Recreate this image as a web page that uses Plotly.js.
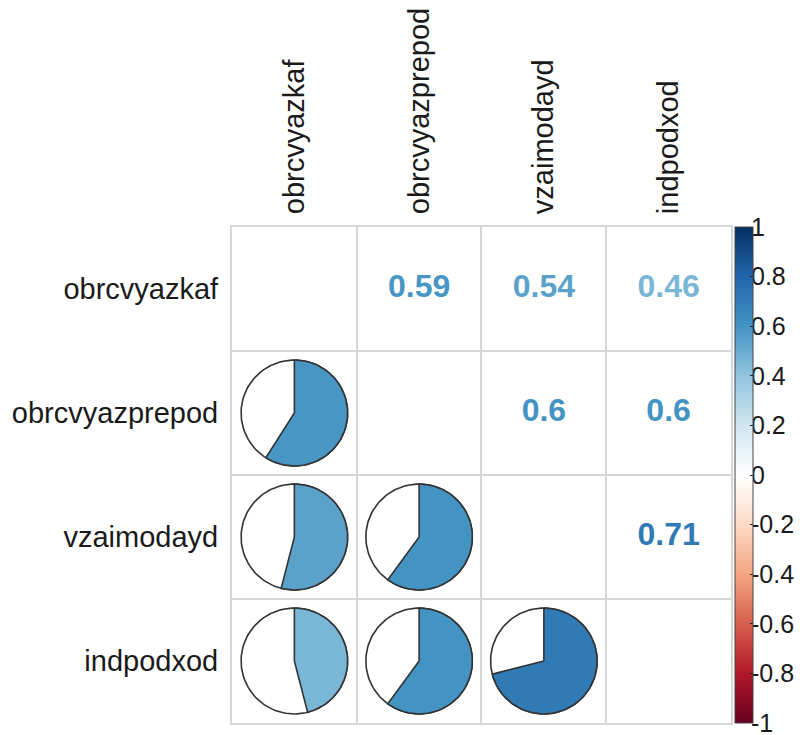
<!DOCTYPE html>
<html>
<head>
<meta charset="utf-8">
<script src="https://cdn.plot.ly/plotly-3.0.1.min.js"></script>
<style>body{margin:0;background:#fff;} #chart{width:800px;height:735px;}</style>
</head>
<body>
<div id="chart"></div>
<script>
// ---- data ----
var variables = ["obrcvyazkaf", "obrcvyazprepod", "vzaimodayd", "indpodxod"];
// correlation matrix (upper/lower symmetric)
var corrRow1 = [1.00, 0.59, 0.54, 0.46];
var corrRow2 = [0.59, 1.00, 0.60, 0.60];
var corrRow3 = [0.54, 0.60, 1.00, 0.71];
var corrRow4 = [0.46, 0.60, 0.71, 1.00];
var corr = [corrRow1, corrRow2, corrRow3, corrRow4];
var colorbarTicks = [1, 0.8, 0.6, 0.4, 0.2, 0, -0.2, -0.4, -0.6, -0.8, -1];
var colorbarTickText = ["1", "0.8", "0.6", "0.4", "0.2", "0", "-0.2", "-0.4", "-0.6", "-0.8", "-1"];

// corrplot RdBu palette
var paletteHex = ["#67001F","#B2182B","#D6604D","#F4A582","#FDDBC7","#FFFFFF","#D1E5F0","#92C5DE","#4393C3","#2166AC","#053061"];
var colorscale = paletteHex.map(function(c, i){ return [i/(paletteHex.length-1), c]; });

function hexToRgb(h){ return [parseInt(h.substr(1,2),16), parseInt(h.substr(3,2),16), parseInt(h.substr(5,2),16)]; }
function colorFor(v){
  var t = (v + 1) / 2 * (paletteHex.length - 1);
  var i = Math.min(Math.floor(t), paletteHex.length - 2);
  var f = t - i;
  var a = hexToRgb(paletteHex[i]), b = hexToRgb(paletteHex[i+1]);
  var c = a.map(function(x, k){ return Math.round(x + (b[k]-x)*f); });
  return "rgb(" + c.join(",") + ")";
}

var R = 0.427; // pie radius in cell units
var traces = [];
var n = variables.length;

// lower triangle: pies
for (var i = 0; i < n; i++) {
  for (var j = 0; j < i; j++) {
    var v = corr[i][j];
    var cx = j + 1, cy = i + 1;
    var xs = [], ys = [];
    for (var k = 0; k <= 120; k++) {
      var th = 2*Math.PI*k/120;
      xs.push(cx + R*Math.sin(th)); ys.push(cy - R*Math.cos(th));
    }
    traces.push({type:"scatter", mode:"lines", x:xs, y:ys, fill:"toself", fillcolor:"#ffffff",
      line:{color:"#333333", width:1.6}, hoverinfo:"skip", showlegend:false});
    var wx = [cx], wy = [cy];
    var steps = Math.max(2, Math.round(120*Math.abs(v)));
    for (var k = 0; k <= steps; k++) {
      var th = 2*Math.PI*v*k/steps;
      wx.push(cx + R*Math.sin(th)); wy.push(cy - R*Math.cos(th));
    }
    wx.push(cx); wy.push(cy);
    traces.push({type:"scatter", mode:"lines", x:wx, y:wy, fill:"toself", fillcolor:colorFor(v),
      line:{color:"#333333", width:1.6}, hoverinfo:"skip", showlegend:false});
  }
}

// upper triangle: numbers
var tx = [], ty = [], tt = [], tc = [], tv = [];
for (var i = 0; i < n; i++) {
  for (var j = i+1; j < n; j++) {
    var v = corr[i][j];
    tx.push(j+1); ty.push(i+1);
    tt.push(String(Math.round(v*100)/100));
    tc.push(colorFor(v)); tv.push(v);
  }
}
traces.push({type:"scatter", mode:"markers+text", x:tx, y:ty, text:tt,
  textfont:{family:"Liberation Sans, Arial, sans-serif", size:32, color:tc, weight:"bold"},
  textposition:"middle center", hoverinfo:"skip", showlegend:false,
  marker:{color:tv, size:1, opacity:0, colorscale:colorscale, cmin:-1, cmax:1, showscale:true,
    colorbar:{x:0.8856, xanchor:"left", xpad:0, y:0.5, yanchor:"middle", len:1, lenmode:"fraction", ypad:0,
      thickness:18, outlinecolor:"#444", outlinewidth:1,
      tickvals:colorbarTicks, ticks:"inside", ticklen:3, tickcolor:"#222", showticklabels:false}}
});

// invisible trace to hold the colour-bar label axis
traces.push({type:"scatter", mode:"markers", x:[null], y:[null], yaxis:"y2", hoverinfo:"skip", showlegend:false});

var gridVals = [0.5, 1.5, 2.5, 3.5, 4.5];
var layout = {
  width:800, height:735,
  margin:{l:232, r:0, t:227, b:12, pad:0, autoexpand:false},
  paper_bgcolor:"#fff", plot_bgcolor:"#fff",
  showlegend:false,
  font:{family:"Liberation Sans, Arial, sans-serif", color:"#1a1a1a"},
  xaxis:{domain:[0, 0.8785], range:[0.5, 4.5], side:"top", tickvals:[1,2,3,4], ticktext:variables, tickangle:-90,
    showgrid:false, zeroline:false, ticks:"", ticklabelstandoff:5,
    tickfont:{size:29, color:"#1a1a1a"},
    minor:{tickvals:gridVals, showgrid:true, gridcolor:"#d6d6d6", gridwidth:2},
    showline:true, linecolor:"#d6d6d6", linewidth:2, mirror:true, fixedrange:true},
  yaxis:{range:[4.5, 0.5], tickvals:[1,2,3,4], ticktext:variables,
    showgrid:false, zeroline:false, ticks:"", ticklabelstandoff:6,
    tickfont:{size:29, color:"#1a1a1a"},
    minor:{tickvals:gridVals, showgrid:true, gridcolor:"#d6d6d6", gridwidth:2},
    showline:true, linecolor:"#d6d6d6", linewidth:2, mirror:true, fixedrange:true},
  yaxis2:{overlaying:"y", anchor:"free", side:"right", position:0.912, range:[-1, 1],
    tickvals:colorbarTicks, ticktext:colorbarTickText, showgrid:false, zeroline:false, showline:false,
    ticks:"", ticklabelstandoff:0, ticklabeloverflow:"allow",
    tickfont:{size:25, color:"#1a1a1a"}, fixedrange:true}
};

Plotly.newPlot("chart", traces, layout, {displayModeBar:false, staticPlot:true});
</script>
</body>
</html>
